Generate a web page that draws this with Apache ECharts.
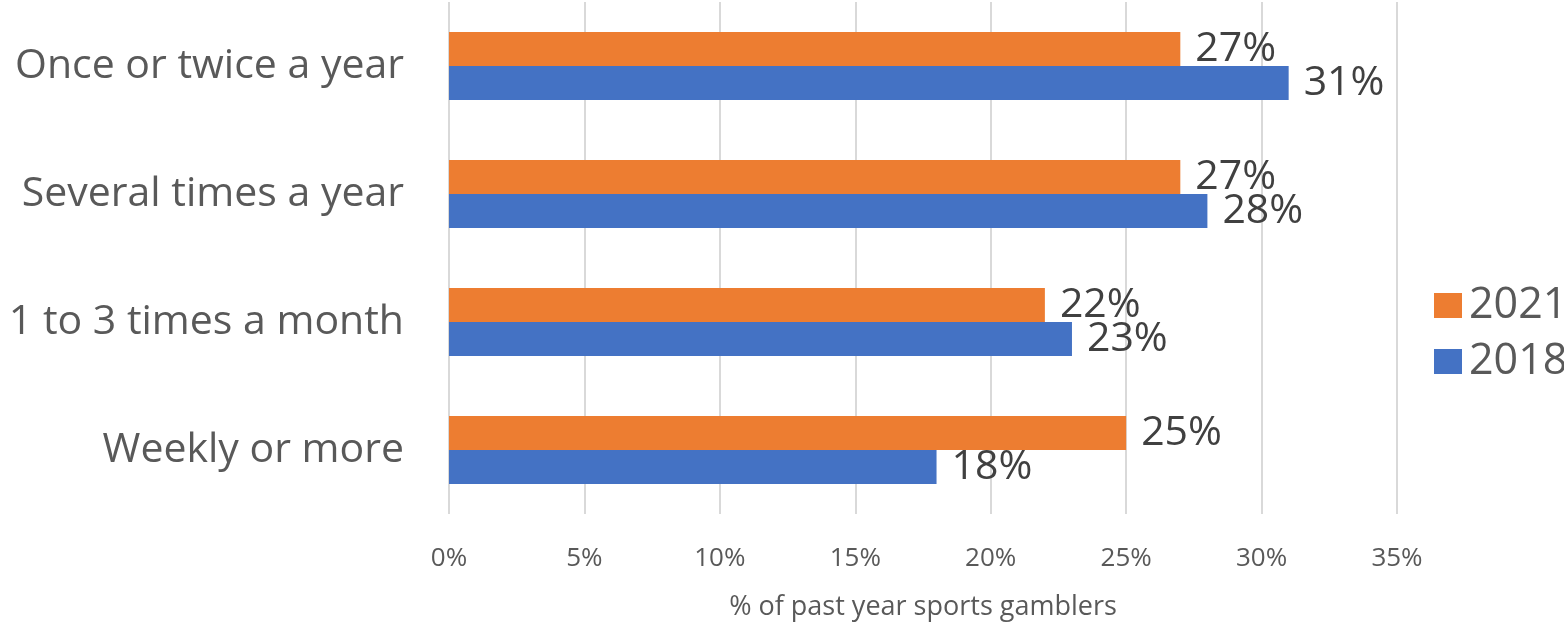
<!DOCTYPE html>
<html>
<head>
<meta charset="utf-8">
<script src="https://cdn.jsdelivr.net/npm/echarts@6/dist/echarts.min.js"></script>
<style>
  html, body { margin: 0; padding: 0; background: #fff; }
  #chart { width: 1564px; height: 623px; }
</style>
</head>
<body>
<div id="chart"></div>
<script>
  // gambling frequency among past-year sports gamblers
  var categories = ['Once or twice a year', 'Several times a year', '1 to 3 times a month', 'Weekly or more'];
  var values2021 = [27, 27, 22, 25];
  var values2018 = [31, 28, 23, 18];
  var xTicks = [0, 5, 10, 15, 20, 25, 30, 35];

  var FONT = "'Open Sans', 'Liberation Sans', sans-serif";
  var TEXT = '#595959';

  var chart = echarts.init(document.getElementById('chart'), null, { renderer: 'canvas' });

  function barLabel() {
    return {
      show: true,
      position: 'right',
      distance: 15,
      color: '#404040',
      fontFamily: FONT,
      fontSize: 41,
      formatter: '{c}%'
    };
  }

  chart.setOption({
    backgroundColor: '#fff',
    animation: false,
    grid: { left: 449, right: 167, top: 2, bottom: 109, outerBoundsMode: 'none', containLabel: false },
    legend: {
      orient: 'vertical',
      left: 1429,
      top: 279,
      itemWidth: 28,
      itemHeight: 25,
      itemGap: 13,
      icon: 'rect',
      textStyle: { color: TEXT, fontFamily: FONT, fontSize: 43, lineHeight: 30, padding: [0, 0, 0, 2] },
      data: ['2021', '2018']
    },
    xAxis: {
      type: 'value',
      min: xTicks[0],
      max: xTicks[xTicks.length - 1],
      interval: 5,
      name: '% of past year sports gamblers',
      nameLocation: 'middle',
      nameGap: 80,
      nameTextStyle: { color: TEXT, fontFamily: FONT, fontSize: 27 },
      axisLine: { show: false },
      axisTick: { show: false },
      axisLabel: {
        color: TEXT, fontFamily: FONT, fontSize: 26, margin: 32,
        formatter: '{value}%'
      },
      splitLine: { lineStyle: { color: '#d9d9d9', width: 2 } }
    },
    yAxis: {
      type: 'category',
      inverse: true,
      data: categories,
      axisLine: { show: false },
      axisTick: { show: false },
      axisLabel: { color: TEXT, fontFamily: FONT, fontSize: 41, margin: 45 }
    },
    series: [
      {
        name: '2021',
        type: 'bar',
        data: values2021,
        barCategoryGap: '47%',
        barGap: '0%',
        itemStyle: { color: '#ED7D31' },
        label: barLabel()
      },
      {
        name: '2018',
        type: 'bar',
        data: values2018,
        barCategoryGap: '47%',
        barGap: '0%',
        itemStyle: { color: '#4472C4' },
        label: barLabel()
      }
    ]
  });
</script>
</body>
</html>
